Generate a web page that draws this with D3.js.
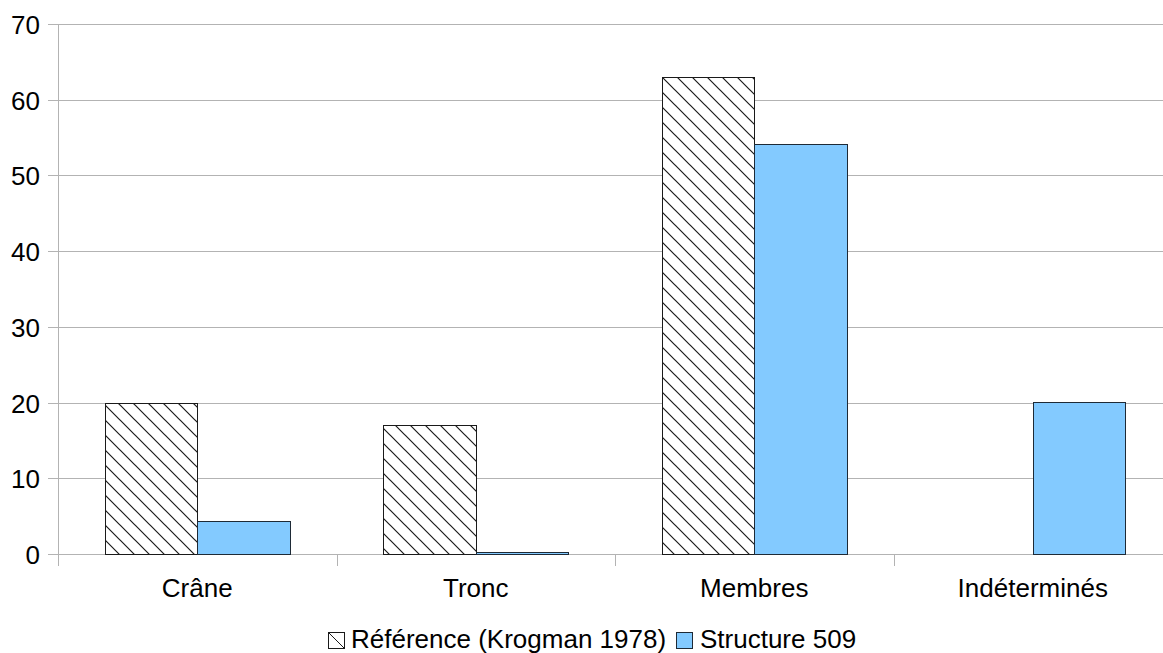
<!DOCTYPE html>
<html><head><meta charset="utf-8">
<script src="https://cdn.jsdelivr.net/npm/d3@7"></script>
<style>body{margin:0;background:#fff;}svg{display:block;font-family:"Liberation Sans",Arial,sans-serif;}</style>
</head><body>
<svg id="c" width="1163" height="653"></svg>
<script>
const categories = ["Crâne", "Tronc", "Membres", "Indéterminés"];
const seriesNames = ["Référence (Krogman 1978)", "Structure 509"];
const refValues = [20, 17, 63, 0];
const structValues = [4.3, 0.2, 54.2, 20.1];
const yTicks = [0, 10, 20, 30, 40, 50, 60, 70];

(function(){
const svg = d3.select("#c");
const pL = 58, pR = 1172, pT = 24, pB = 554;
const fs = 26;

const defs = svg.append("defs");
const pat = defs.append("pattern").attr("id","hatch").attr("patternUnits","userSpaceOnUse")
  .attr("width",15).attr("height",15);
pat.append("rect").attr("width",15).attr("height",15).attr("fill","#fff");
pat.append("path").attr("d","M-1,-1 L16,16 M-16,-1 L1,16 M14,-1 L31,16").attr("stroke","#1a1a1a").attr("stroke-width",1.2);

const x = d3.scaleBand().domain(categories).range([pL, pR]).paddingInner(0).paddingOuter(0);
const x1 = d3.scaleBand().domain(seriesNames).range([0, x.bandwidth()]).paddingInner(0).paddingOuter(0.505);
const y = d3.scaleLinear().domain([0, 70]).range([pB, pT]);

svg.append("g").selectAll("line").data(yTicks).join("line")
  .attr("x1", pL - 10).attr("x2", pR)
  .attr("y1", d => Math.round(y(d)) + 0.5).attr("y2", d => Math.round(y(d)) + 0.5)
  .attr("stroke", "#b3b3b3").attr("stroke-width", 1);

svg.append("line").attr("x1", pL + 0.5).attr("x2", pL + 0.5).attr("y1", pT).attr("y2", pB + 12)
  .attr("stroke", "#b3b3b3");
const bounds = categories.slice(1).map(c => x(c));
svg.append("g").selectAll("line").data(bounds).join("line")
  .attr("x1", d => Math.round(d) + 0.5).attr("x2", d => Math.round(d) + 0.5)
  .attr("y1", pB).attr("y2", pB + 12).attr("stroke", "#b3b3b3");

svg.append("g").selectAll("text").data(yTicks).join("text")
  .attr("x", pL - 18).attr("y", d => y(d) + 10)
  .attr("text-anchor", "end").attr("font-size", fs).attr("fill", "#000").text(d => d);

const data = categories.map((c, i) => ({c, vals: [refValues[i], structValues[i]]}));
const g = svg.append("g");
data.forEach(d => {
  d.vals.forEach((v, j) => {
    if (v <= 0) return;
    g.append("rect")
      .attr("x", Math.round(x(d.c) + x1(seriesNames[j])) + 0.5)
      .attr("y", Math.round(y(v)) + 0.5)
      .attr("width", Math.round(x(d.c) + x1(seriesNames[j]) + x1.bandwidth()) - Math.round(x(d.c) + x1(seriesNames[j])))
      .attr("height", Math.round(y(0)) - Math.round(y(v)))
      .attr("fill", j === 0 ? "url(#hatch)" : "#83caff")
      .attr("stroke", j === 0 ? "#1a1a1a" : "#1e2a36")
      .attr("stroke-width", 1);
  });
});

svg.append("g").selectAll("text").data(categories).join("text")
  .attr("x", d => x(d) + x.bandwidth() / 2).attr("y", 597)
  .attr("text-anchor", "middle").attr("font-size", fs).attr("fill", "#000").text(d => d);

const leg = svg.append("g");
leg.append("rect").attr("x", 328.5).attr("y", 632.5).attr("width", 16).attr("height", 16)
  .attr("fill", "#fff").attr("stroke", "#1a1a1a");
leg.append("line").attr("x1", 329).attr("y1", 633).attr("x2", 344).attr("y2", 648).attr("stroke", "#1a1a1a");
leg.append("text").attr("x", 351).attr("y", 648).attr("font-size", fs).text(seriesNames[0]);
leg.append("rect").attr("x", 676.5).attr("y", 632.5).attr("width", 16).attr("height", 16)
  .attr("fill", "#83caff").attr("stroke", "#1e2a36");
leg.append("text").attr("x", 700).attr("y", 648).attr("font-size", fs).text(seriesNames[1]);
})();
</script>
</body></html>
